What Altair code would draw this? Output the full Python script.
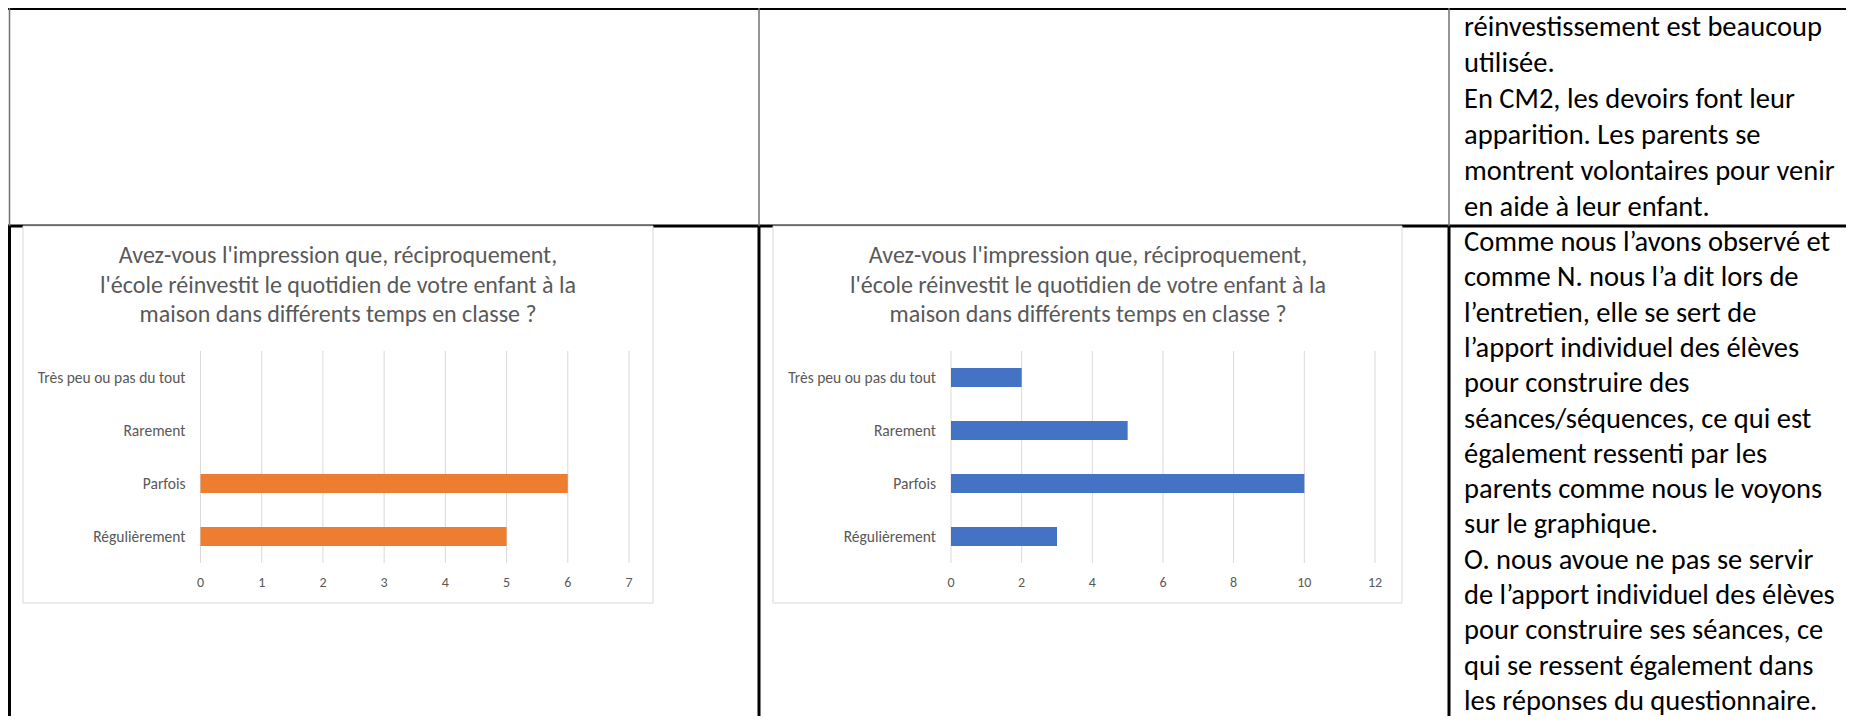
import altair as alt
import pandas as pd

# ---------------- data ----------------
categories = ["Très peu ou pas du tout", "Rarement", "Parfois", "Régulièrement"]
values_left = [0, 0, 6, 5]
values_right = [2, 5, 10, 3]
ticks_left = [0, 1, 2, 3, 4, 5, 6, 7]
ticks_right = [0, 2, 4, 6, 8, 10, 12]
title_lines = [
    "Avez-vous l'impression que, réciproquement,",
    "l'école réinvestit le quotidien de votre enfant à la",
    "maison dans différents temps en classe ?",
]
text_top = [
    "réinvestissement est beaucoup",
    "utilisée.",
    "En CM2, les devoirs font leur",
    "apparition. Les parents se",
    "montrent volontaires pour venir",
    "en aide à leur enfant.",
]
text_bottom = [
    "Comme nous l’avons observé et",
    "comme N. nous l’a dit lors de",
    "l’entretien, elle se sert de",
    "l’apport individuel des élèves",
    "pour construire des",
    "séances/séquences, ce qui est",
    "également ressenti par les",
    "parents comme nous le voyons",
    "sur le graphique.",
    "O. nous avoue ne pas se servir",
    "de l’apport individuel des élèves",
    "pour construire ses séances, ce",
    "qui se ressent également dans",
    "les réponses du questionnaire.",
]

FONT = "Calibri, Carlito, Lato"
GRAY_TXT = "#595959"
GRID = "#d9d9d9"
W, H = 1838, 708

one = pd.DataFrame({"d": [0]})


def rule(x, x2, y, y2, color="black", width=3):
    return alt.Chart(one).mark_rule(color=color, strokeWidth=width).encode(
        x=alt.value(x), x2=alt.value(x2), y=alt.value(y), y2=alt.value(y2)
    )


def box(x, x2, y, y2):
    return alt.Chart(one).mark_rect(fill="white", stroke=GRID, strokeWidth=1).encode(
        x=alt.value(x), x2=alt.value(x2), y=alt.value(y), y2=alt.value(y2)
    )


# ---------------- table lines ----------------
ROW_Y = 218
cols = [1.5, 751, 1441]
layers = [rule(0, W, 0.5, 0.5), rule(0, W, ROW_Y, ROW_Y)]
for cx in cols:
    layers.append(rule(cx, cx, 0, ROW_Y, color="#707070", width=1.5))
    layers.append(rule(cx, cx, ROW_Y, H, color="black", width=3))


# ---------------- charts ----------------
def bar_chart(values, ticks, color, left, right, x0, x1, label_x, center_x):
    parts = [box(left, right, ROW_Y, 595)]
    xs = alt.Scale(domain=[ticks[0], ticks[-1]], range=[x0, x1], nice=False, zero=False)
    ys = alt.Scale(domain=categories, range=[343, 555], paddingInner=0.64, paddingOuter=0.32)
    tdf = pd.DataFrame({"t": ticks})
    bdf = pd.DataFrame({"c": categories, "v": values})
    parts.append(
        alt.Chart(tdf).mark_rule(color=GRID, strokeWidth=1).encode(
            x=alt.X("t:Q", scale=xs, axis=None), y=alt.value(343), y2=alt.value(555)
        )
    )
    parts.append(
        alt.Chart(bdf).mark_bar(color=color).encode(
            x=alt.X("v:Q", scale=xs, axis=None),
            y=alt.Y("c:N", scale=ys, axis=None, sort=None),
        )
    )
    parts.append(
        alt.Chart(bdf).mark_text(
            align="right", baseline="middle", font=FONT, fontSize=15.5, color=GRAY_TXT
        ).encode(
            x=alt.value(label_x),
            y=alt.Y("c:N", scale=ys, axis=None, sort=None),
            text="c:N",
        )
    )
    parts.append(
        alt.Chart(tdf).mark_text(
            align="center", baseline="middle", font=FONT, fontSize=14, color=GRAY_TXT
        ).encode(x=alt.X("t:Q", scale=xs, axis=None), y=alt.value(575), text="t:Q")
    )
    ttl = pd.DataFrame({"i": list(range(len(title_lines))), "s": title_lines})
    parts.append(
        alt.Chart(ttl).mark_text(
            align="center", baseline="middle", font=FONT, fontSize=24, color=GRAY_TXT
        ).encode(
            x=alt.value(center_x),
            y=alt.Y("i:Q", scale=alt.Scale(domain=[0, 2], range=[248, 307]), axis=None),
            text="s:N",
        )
    )
    return parts


layers += bar_chart(values_left, ticks_left, "#ED7D31", 15, 645, 192.5, 621, 177.5, 330)
layers += bar_chart(values_right, ticks_right, "#4472C4", 765, 1394, 943, 1367, 928, 1080)


# ---------------- paragraph text ----------------
def paragraph(lines, y0, step):
    df = pd.DataFrame({"i": list(range(len(lines))), "s": lines})
    n = len(lines) - 1
    return alt.Chart(df).mark_text(
        align="left", baseline="middle", font=FONT, fontSize=28.5, color="black"
    ).encode(
        x=alt.value(1456),
        y=alt.Y("i:Q", scale=alt.Scale(domain=[0, n], range=[y0, y0 + step * n]), axis=None),
        text="s:N",
    )


layers.append(paragraph(text_top, 19, 36))
layers.append(paragraph(text_bottom, 234, 35.3))

chart = (
    alt.layer(*layers)
    .resolve_scale(x="independent", y="independent")
    .properties(
        width=W,
        height=H,
        padding=0,
        autosize=alt.AutoSizeParams(type="none"),
        background="white",
    )
    .configure_view(stroke=None)
)

chart.save("out.html", embed_options={"renderer": "svg", "actions": False})
